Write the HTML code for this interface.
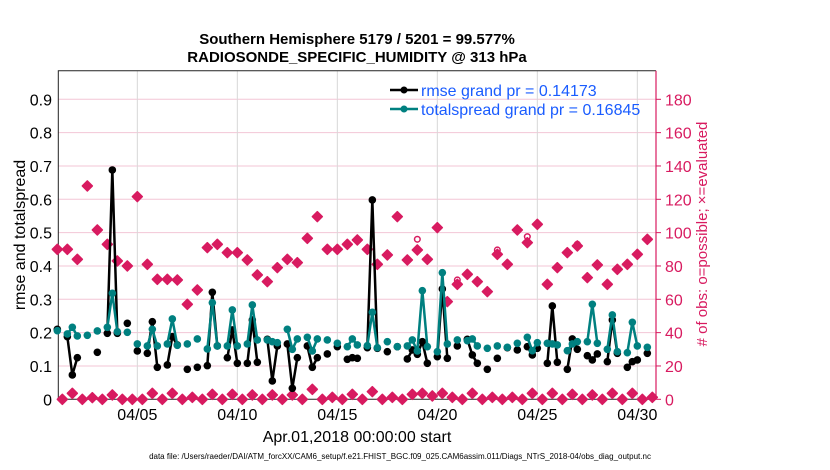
<!DOCTYPE html>
<html><head><meta charset="utf-8">
<style>
html,body{margin:0;padding:0;background:#fff;}
svg{display:block;font-family:"Liberation Sans",sans-serif;}
</style></head>
<body>
<svg id="chart" width="830" height="470" viewBox="0 0 830 470" xmlns="http://www.w3.org/2000/svg">
<text x="357" y="44" text-anchor="middle" font-size="15" font-weight="bold">Southern Hemisphere 5179 / 5201 = 99.577%</text>
<text x="357" y="62" text-anchor="middle" font-size="15" font-weight="bold">RADIOSONDE_SPECIFIC_HUMIDITY @ 313 hPa</text>
<g id="grid"></g>
<g id="axes"></g>
<g id="marks"></g>
<text transform="translate(25,235) rotate(-90)" text-anchor="middle" font-size="16">rmse and totalspread</text>
<text transform="translate(707,234) rotate(-90)" text-anchor="middle" font-size="15" fill="#d81b60">#  of obs: o=possible; ×=evaluated</text>
<text x="357" y="442" text-anchor="middle" font-size="16">Apr.01,2018 00:00:00 start</text>
<text x="400" y="459" text-anchor="middle" font-size="8">data file: /Users/raeder/DAI/ATM_forcXX/CAM6_setup/f.e21.FHIST_BGC.f09_025.CAM6assim.011/Diags_NTrS_2018-04/obs_diag_output.nc</text>
<g id="legend">
<line x1="390" y1="90" x2="418" y2="90" stroke="#000" stroke-width="2.5"/>
<circle cx="404" cy="90" r="3.5" fill="#000"/>
<text x="421" y="96" font-size="16" fill="#1a5cff">rmse grand pr = 0.14173</text>
<line x1="390" y1="109" x2="418" y2="109" stroke="#008080" stroke-width="2.5"/>
<circle cx="404" cy="109" r="3.5" fill="#008080"/>
<text x="421" y="115" font-size="16" fill="#1a5cff">totalspread grand pr = 0.16845</text>
</g>
</svg>
<script>
const N = 120;
const rmsePts = {0:0.21,2:0.188,3:0.073,4:0.125,8:0.141,10:0.198,11:0.688,12:0.198,14:0.228,16:0.145,18:0.138,19:0.233,20:0.096,22:0.103,23:0.188,24:0.163,26:0.09,28:0.096,30:0.101,31:0.321,32:0.16,34:0.125,35:0.208,36:0.108,38:0.108,39:0.238,40:0.111,42:0.18,43:0.055,44:0.16,46:0.166,47:0.033,48:0.125,50:0.16,51:0.096,52:0.125,54:0.136,56:0.158,58:0.12,59:0.125,60:0.123,62:0.155,63:0.598,64:0.153,66:0.143,68:0.158,70:0.121,71:0.148,72:0.135,73:0.173,74:0.108,76:0.128,77:0.331,78:0.123,80:0.16,82:0.18,83:0.133,84:0.108,86:0.09,88:0.123,90:0.155,92:0.148,94:0.158,95:0.133,96:0.153,98:0.108,99:0.28,100:0.111,102:0.09,103:0.181,104:0.15,106:0.131,107:0.118,108:0.136,110:0.113,111:0.238,112:0.138,114:0.096,115:0.113,116:0.118,118:0.138};
const spreadPts = {0:0.206,2:0.196,3:0.216,4:0.19,6:0.192,8:0.205,10:0.216,11:0.318,12:0.203,14:0.201,16:0.166,18:0.16,19:0.21,20:0.16,22:0.166,23:0.241,24:0.162,26:0.166,28:0.181,30:0.151,31:0.29,32:0.16,34:0.16,35:0.268,36:0.16,38:0.166,39:0.283,40:0.178,42:0.178,43:0.173,44:0.17,46:0.21,47:0.15,48:0.181,50:0.186,51:0.145,52:0.181,54:0.178,56:0.168,58:0.158,59:0.181,60:0.163,62:0.161,63:0.261,64:0.155,66:0.173,68:0.158,70:0.16,71:0.178,72:0.145,73:0.326,74:0.158,76:0.143,77:0.38,78:0.166,80:0.178,82:0.176,83:0.181,84:0.16,86:0.153,88:0.16,90:0.156,92:0.168,94:0.186,95:0.146,96:0.17,98:0.168,99:0.166,100:0.163,102:0.146,103:0.166,104:0.173,106:0.173,107:0.285,108:0.168,110:0.15,111:0.253,112:0.143,114:0.14,115:0.231,116:0.16,118:0.156};
const evenCounts = [90,90,84,128,101.6,93,83,80,121.6,81,72,72,71.6,57,65.6,91,93,88,88,83.6,74.6,70.6,79,84,82,96.6,109.6,90,90,93,95.6,90,81,86.6,109.6,83.6,89.6,84,103,58.6,69,75,70.6,64.6,87,81,101.6,94,105,69,79,88,92,73,80.6,69,78,81,87,96];
const oddCounts = [0,3.6,0,1,0,2.6,0,0,0,3.6,0,3.6,0,1.2,0,3,0,3,0,2.6,0,2.6,0,2.6,0,6,0,1.2,0,3,0,4.6,0,1.2,0,3,3.6,2,3.6,1.2,0,3.6,0,1.2,0,1.2,0,3.6,0,3.6,0,3,0,2.6,0,3.6,0,3.6,0,1.2];
const possibleOverrides = {72:96,80:71.6,88:89.6,94:97.6,104:93};
const xTickDays = [4,9,14,19,24,29];
const xTickLabels = ["04/05","04/10","04/15","04/20","04/25","04/30"];
const yTicks = [0,0.1,0.2,0.3,0.4,0.5,0.6,0.7,0.8,0.9];
const y2Ticks = [0,20,40,60,80,100,120,140,160,180];

const L=58.3, R=656, T=70.7, B=399.3;
const xS = j => 57.33 + 5*j;
const xDay = d => xS(d*4);
const yS = v => B - v*333.3;
const y2S = c => B - c*(300/180);
const NS="http://www.w3.org/2000/svg";
function mk(parent, tag, attrs){const e=document.createElementNS(NS,tag);for(const k in attrs)e.setAttribute(k,attrs[k]);parent.appendChild(e);return e;}
const grid=document.getElementById('grid'), axes=document.getElementById('axes'), marks=document.getElementById('marks');

y2Ticks.forEach(t=>{ if(t===0) return;
  const g=mk(grid,'line',{x1:L,x2:R,y1:y2S(t),y2:y2S(t),stroke:'#f3c6d6','stroke-width':1});
  
  
});
xTickDays.forEach((d,i)=>{
  const g=mk(grid,'line',{x1:xDay(d),x2:xDay(d),y1:T,y2:B,stroke:'#d8d8d8','stroke-width':1});
  
  
  const t=mk(axes,'text',{x:xDay(d),y:420,'text-anchor':'middle','font-size':16});
  t.textContent=xTickLabels[i];
  
  
});
const frame=mk(axes,'path',{d:`M${L},${B}V${T}H${R}M${L},${B}H${R}`,fill:'none',stroke:'#222','stroke-width':1});


const rAx=mk(axes,'line',{x1:R,x2:R,y1:T,y2:B,stroke:'#d81b60','stroke-width':1.2});


yTicks.forEach(v=>{
  const t=mk(axes,'text',{x:52,y:yS(v)+6,'text-anchor':'end','font-size':16});
  t.textContent=(v===0?'0':v.toFixed(1));
  
  
});
y2Ticks.forEach(c=>{
  const tk=mk(axes,'line',{x1:R,x2:R+5,y1:y2S(c),y2:y2S(c),stroke:'#d81b60','stroke-width':1});
  
  
  const t=mk(axes,'text',{x:R+9,y:y2S(c)+6,'font-size':16,fill:'#d81b60'});
  t.textContent=String(c);
  
  
});

function drawSeries(pts,color,name){
  let d='';let prev=-5;
  for(let j=0;j<N;j++){ if(pts[j]===undefined) continue;
    d += (j===prev+1?'L':'M')+xS(j)+','+yS(pts[j]); prev=j; }
  const p=mk(marks,'path',{d:d,fill:'none',stroke:color,'stroke-width':2.5,'stroke-linejoin':'round'});
  
  
  for(let j=0;j<N;j++){ if(pts[j]===undefined) continue;
    const c=mk(marks,'circle',{cx:xS(j),cy:yS(pts[j]),r:3.8,fill:color});
    
    
  }
}
function star(x,y){
  const p=mk(marks,'path',{d:`M${x-5},${y}L${x},${y-5}L${x+5},${y}L${x},${y+5}Z`,fill:'#d81b60',stroke:'#d81b60','stroke-width':1.5,'stroke-linejoin':'round'});
  
  
  const q=mk(marks,'circle',{cx:x,cy:y,r:3.6,fill:'#d81b60'});
  
  
}
function ring(x,y){
  const c=mk(marks,'circle',{cx:x,cy:y,r:2.8,fill:'none',stroke:'#d81b60','stroke-width':1.5});
  
  
}
evenCounts.forEach((c,i)=>{const j=2*i; const pc=possibleOverrides[j]!==undefined?possibleOverrides[j]:c; ring(xS(j),y2S(pc)); star(xS(j),y2S(c));});
oddCounts.forEach((c,i)=>{const j=2*i+1; ring(xS(j),y2S(c)); star(xS(j),y2S(c));});
drawSeries(rmsePts,'#000','rmse');
drawSeries(spreadPts,'#008080','totalspread');
</script>
</body></html>
